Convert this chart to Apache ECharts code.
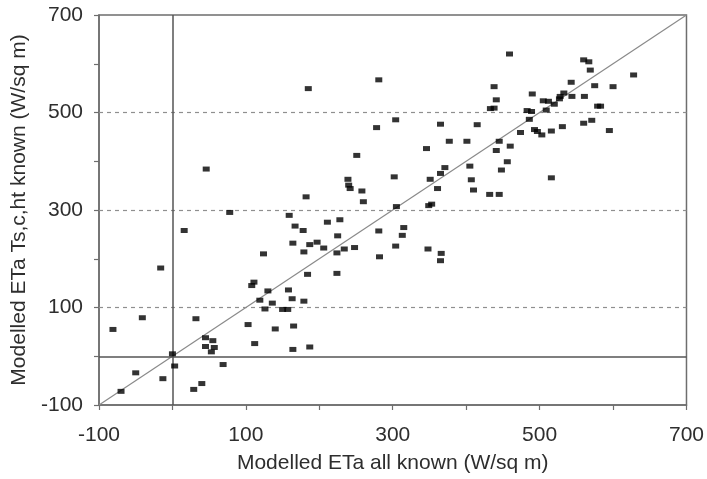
<!DOCTYPE html>
<html>
<head>
<meta charset="utf-8">
<script src="https://cdn.jsdelivr.net/npm/echarts@6/dist/echarts.min.js"></script>
<style>
  html, body { margin: 0; padding: 0; background: #fff; }
  #chart { width: 707px; height: 479px; }
</style>
</head>
<body>
<div id="chart"></div>
<script>
// Modelled latent heat flux (W/sq m): all inputs known (x) vs Ts, c, ht known (y)
const etaAllKnown = [
  124, -16, 111, 108, 130, 119, 136, 126, 150, 157,
  -41, 32, -81, 103, 140, 45, 55, 45, 57, 53,
  112, 0, 3, 69, -50, -13, 40, 29, -70, 46,
  78, 16, 159, 304, 278, 365, 415, 377, 401, 346,
  251, 239, 240, 242, 258, 260, 182, 302, 351, 365,
  371, 405, 407, 410, 361, 305, 349, 353, 167, 178,
  211, 228, 225, 281, 315, 313, 164, 187, 197, 206,
  179, 224, 234, 248, 304, 348, 366, 365, 282, 184,
  224, 158, 163, 179, 165, 164, 187, 459, 560, 567,
  569, 628, 543, 438, 600, 575, 441, 490, 533, 528,
  527, 544, 561, 505, 512, 520, 433, 438, 483, 489,
  509, 579, 583, 486, 493, 497, 503, 516, 531, 560,
  571, 595, 474, 445, 441, 460, 456, 448, 432, 445,
  516, 185, 281
];
const etaTsKnown = [
  210, 181, 152, 145, 134, 115, 109, 97, 96, 96,
  79, 77, 55, 65, 56, 38, 32, 20, 18, 9,
  26, 5, -20, -17, -34, -46, -56, -68, -72, 384,
  295, 258, 289, 485, 469, 476, 475, 441, 441, 426,
  412, 363, 351, 344, 339, 317, 327, 368, 363, 375,
  387, 390, 362, 341, 344, 307, 309, 312, 267, 258,
  275, 280, 247, 257, 264, 248, 232, 229, 234, 222,
  214, 212, 220, 223, 226, 220, 211, 196, 204, 168,
  170, 136, 118, 113, 62, 14, 19, 620, 608, 604,
  587, 577, 562, 553, 553, 555, 526, 538, 540, 533,
  528, 533, 533, 524, 523, 517, 508, 509, 504, 502,
  505, 513, 513, 486, 465, 461, 454, 462, 471, 478,
  484, 463, 459, 441, 422, 431, 399, 382, 332, 332,
  366, 549, 567
];

// Axis range and tick spacing shared by both axes
const axisMin = -100;
const axisMax = 700;
const tickStep = 100;
const dashedLevels = [100, 300, 500];

const points = etaAllKnown.map((x, i) => [x, etaTsKnown[i]]);
const oneToOne = [[axisMin, axisMin], [axisMax, axisMax]];

const font = '"Liberation Sans", Arial, sans-serif';
const textColor = '#2e2e2e';
const showEveryOther = v => ((v - axisMin) % 200 === 0 ? String(v) : '');

function valueAxis(extra, labelMargin) {
  return Object.assign({
    type: 'value',
    min: axisMin,
    max: axisMax,
    interval: tickStep,
    axisLine: { show: true, onZero: false, lineStyle: { color: '#6e6e6e', width: 1.5 } },
    axisTick: { show: true, inside: false, length: 5, lineStyle: { color: '#6e6e6e', width: 1.2 } },
    axisLabel: {
      formatter: showEveryOther,
      color: textColor,
      fontFamily: font,
      fontSize: 21,
      margin: labelMargin
    },
    splitLine: { show: false },
    nameLocation: 'middle',
    nameTextStyle: { color: textColor, fontFamily: font, fontSize: 21 }
  }, extra);
}

const chart = echarts.init(document.getElementById('chart'), null, { renderer: 'canvas' });

chart.setOption({
  animation: false,
  backgroundColor: '#fff',
  grid: {
    left: 99, right: 18, top: 15, bottom: 71,
    show: true,
    borderColor: '#6e6e6e',
    borderWidth: 1.5,
    backgroundColor: 'transparent'
  },
  xAxis: valueAxis({ name: 'Modelled ETa all known (W/sq m)', nameGap: 48 }, 20),
  yAxis: valueAxis({ name: 'Modelled ETa Ts,c,ht known (W/sq m)', nameGap: 67 }, 16),
  series: [
    {
      // 1:1 line plus reference levels
      type: 'line',
      data: oneToOne,
      symbol: 'none',
      silent: true,
      lineStyle: { color: '#8a8a8a', width: 1.2 },
      z: 2,
      markLine: {
        silent: true,
        symbol: 'none',
        label: { show: false },
        data: [
          ...dashedLevels.map(v => ({
            yAxis: v,
            lineStyle: { color: '#8f8f8f', type: [4, 4], width: 1.2 }
          })),
          { xAxis: 0, lineStyle: { color: '#555', type: 'solid', width: 1.5 } },
          { yAxis: 0, lineStyle: { color: '#555', type: 'solid', width: 1.5 } }
        ]
      }
    },
    {
      type: 'scatter',
      data: points,
      symbol: 'rect',
      symbolSize: [7, 5],
      itemStyle: { color: '#000' },
      z: 5
    }
  ]
});
</script>
</body>
</html>
